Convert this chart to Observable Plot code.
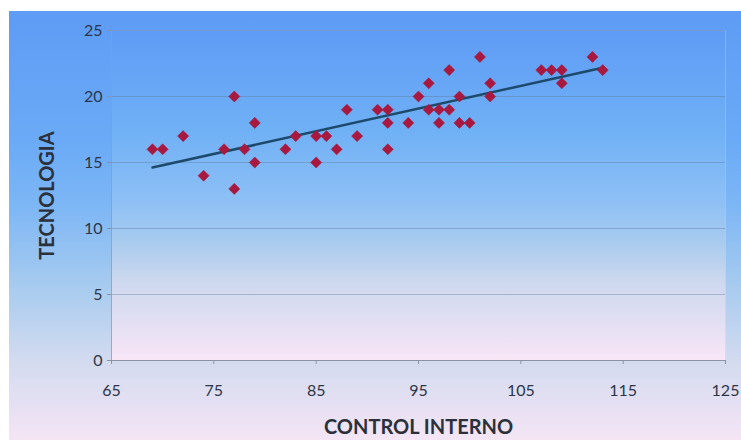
<!DOCTYPE html>
<html>
<head>
<meta charset="utf-8">
<script src="https://cdn.jsdelivr.net/npm/d3@7"></script>
<script src="https://cdn.jsdelivr.net/npm/@observablehq/plot@0.6"></script>
<style>
  html, body { margin: 0; padding: 0; background: #ffffff; }
  #chart {
    position: absolute; left: 9px; top: 11px; width: 732px; height: 429px;
    background: linear-gradient(to bottom, #5e9cf5 0%, #6aaaf6 30%, #7cb6f5 45%, #a9ccef 65%, #d4dbef 82%, #e6e0f3 92%, #f4e5f4 100%);
  }
  #chart svg { display: block; }
  g[aria-label="x-axis tick label"] text, g[aria-label="y-axis tick label"] text { fill: #2c3648; }
  g[aria-label="x-axis label"] text, g[aria-label="y-axis label"] text {
    font-weight: bold; fill: #2b303a; font-size: 20px;
  }
</style>
</head>
<body>
<div id="chart"></div>
<script>
// Control interno (x) vs. tecnologia (y) scores
const controlInterno = [69, 70, 72, 74, 76, 77, 77, 78, 79, 79, 82, 83, 85, 85, 86, 87, 88, 89, 91, 92, 92, 92, 94, 95, 96, 96, 97, 97, 98, 98, 99, 99, 100, 101, 102, 102, 107, 108, 109, 109, 112, 113];
const tecnologia     = [16, 16, 17, 14, 16, 20, 13, 16, 18, 15, 16, 17, 17, 15, 17, 16, 19, 17, 19, 19, 18, 16, 18, 20, 21, 19, 19, 18, 22, 19, 20, 18, 18, 23, 21, 20, 22, 22, 22, 21, 23, 22];
const xTicks = [65, 75, 85, 95, 105, 115, 125];
const yTicks = [0, 5, 10, 15, 20, 25];
const gridValues = [5, 10, 15, 20, 25];

const points = controlInterno.map((x, i) => ({x, y: tecnologia[i]}));

const chart = Plot.plot({
  width: 732,
  height: 429,
  marginLeft: 102,
  marginRight: 16,
  marginTop: 19,
  marginBottom: 80,
  style: {background: "transparent", fontFamily: "Lato, 'Open Sans', sans-serif", fontSize: "16px", color: "#3a4456"},
  x: {domain: [65, 125]},
  y: {domain: [0, 25]},
  marks: [
    Plot.frame({fill: "url(#plotBg)", stroke: "#c9d6ea", strokeOpacity: 0.35}),
    Plot.ruleY(gridValues, {stroke: "#5f7596", strokeOpacity: 0.4}),
    Plot.ruleY([0], {stroke: "#8a93a6"}),
    Plot.ruleX([65], {stroke: "#8a93a6", strokeOpacity: 0.7}),
    Plot.axisX({ticks: xTicks, tickSize: 4, tickPadding: 20, stroke: "#8a93a6",
      label: "CONTROL INTERNO", labelAnchor: "center", labelArrow: "none", labelOffset: 73}),
    Plot.axisY({ticks: yTicks, tickSize: 4, tickPadding: 5, stroke: "#8a93a6",
      label: "TECNOLOGIA", labelAnchor: "center", labelArrow: "none", labelOffset: 72}),
    Plot.linearRegressionY(points, {x: "x", y: "y", ci: 0, stroke: "#1d4a6a", strokeWidth: 2.5}),
    Plot.dot(points, {x: "x", y: "y", symbol: "diamond2", r: 5, fill: "#a8183f", stroke: "#a8183f", strokeWidth: 0.5})
  ]
});

// Plot-area gradient referenced by the frame fill
const svg = d3.select(chart);
const grad = svg.insert("defs", ":first-child")
  .append("linearGradient")
  .attr("id", "plotBg").attr("x1", 0).attr("y1", 0).attr("x2", 0).attr("y2", 1);
[[0, "#5e9cf5"], [0.3, "#6fb0f5"], [0.52, "#8ec0f5"], [0.64, "#a8cbef"], [0.76, "#cdd8ee"], [0.88, "#e2dff3"], [1, "#f8e6f6"]]
  .forEach(([o, c]) => grad.append("stop").attr("offset", o).attr("stop-color", c));

document.getElementById("chart").appendChild(chart);
</script>
</body>
</html>
